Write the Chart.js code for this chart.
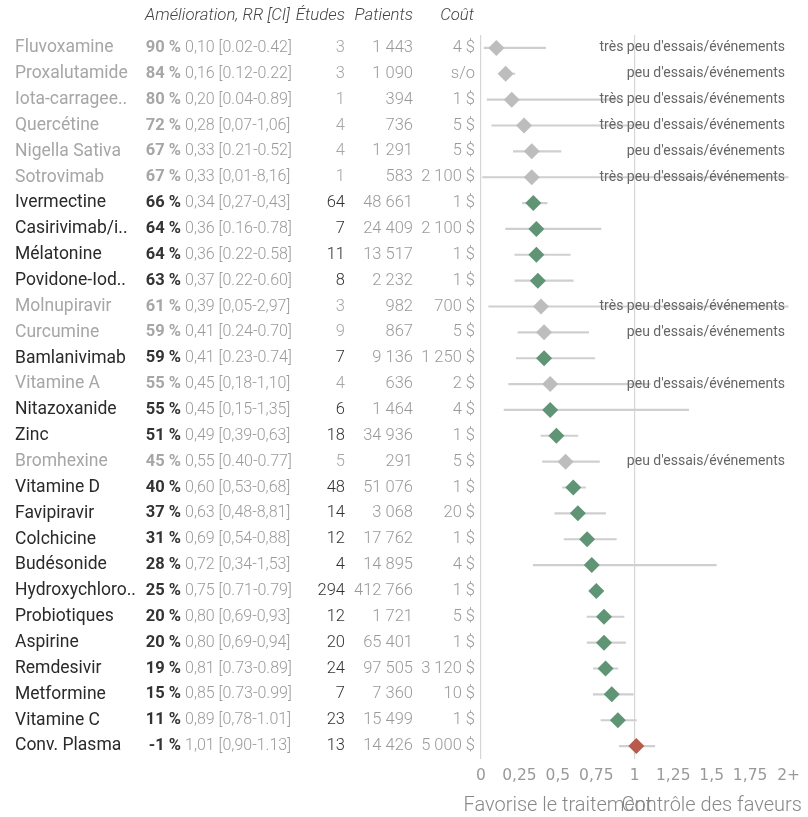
<!DOCTYPE html>
<html>
<head>
<meta charset="utf-8">
<script src="https://cdn.jsdelivr.net/npm/chart.js@4"></script>
<style>
  body { margin: 0; background: #fff; }
  #wrap { width: 808px; height: 817px; position: relative; }
</style>
</head>
<body>
<div id="wrap"><canvas id="forest"></canvas></div>
<script>
// Data
const names = ['Fluvoxamine', 'Proxalutamide', 'Iota-carragee..', 'Quercétine', 'Nigella Sativa', 'Sotrovimab',
  'Ivermectine', 'Casirivimab/i..', 'Mélatonine', 'Povidone-Iod..', 'Molnupiravir', 'Curcumine', 'Bamlanivimab',
  'Vitamine A', 'Nitazoxanide', 'Zinc', 'Bromhexine', 'Vitamine D', 'Favipiravir', 'Colchicine', 'Budésonide',
  'Hydroxychloro..', 'Probiotiques', 'Aspirine', 'Remdesivir', 'Metformine', 'Vitamine C', 'Conv. Plasma'];
const improvement = [90, 84, 80, 72, 67, 67, 66, 64, 64, 63, 61, 59, 59, 55, 55, 51, 45, 40, 37, 31, 28, 25, 20, 20, 19, 15, 11, -1];
const rr = [0.10, 0.16, 0.20, 0.28, 0.33, 0.33, 0.34, 0.36, 0.36, 0.37, 0.39, 0.41, 0.41, 0.45, 0.45, 0.49, 0.55,
  0.60, 0.63, 0.69, 0.72, 0.75, 0.80, 0.80, 0.81, 0.85, 0.89, 1.01];
const ciLow = [0.02, 0.12, 0.04, 0.07, 0.21, 0.01, 0.27, 0.16, 0.22, 0.22, 0.05, 0.24, 0.23, 0.18, 0.15, 0.39, 0.40,
  0.53, 0.48, 0.54, 0.34, 0.71, 0.69, 0.69, 0.73, 0.73, 0.78, 0.90];
const ciHigh = [0.42, 0.22, 0.89, 1.06, 0.52, 8.16, 0.43, 0.78, 0.58, 0.60, 2.97, 0.70, 0.74, 1.10, 1.35, 0.63, 0.77,
  0.68, 0.81, 0.88, 1.53, 0.79, 0.93, 0.94, 0.89, 0.99, 1.01, 1.13];
const ciText = ['[0.02-0.42]', '[0.12-0.22]', '[0.04-0.89]', '[0,07-1,06]', '[0.21-0.52]', '[0,01-8,16]',
  '[0,27-0,43]', '[0.16-0.78]', '[0.22-0.58]', '[0.22-0.60]', '[0,05-2,97]', '[0.24-0.70]', '[0.23-0.74]',
  '[0,18-1,10]', '[0,15-1,35]', '[0,39-0,63]', '[0.40-0.77]', '[0,53-0,68]', '[0,48-8,81]', '[0,54-0,88]',
  '[0,34-1,53]', '[0.71-0.79]', '[0,69-0,93]', '[0,69-0,94]', '[0.73-0.89]', '[0.73-0.99]', '[0,78-1.01]', '[0,90-1.13]'];
const studies = [3, 3, 1, 4, 4, 1, 64, 7, 11, 8, 3, 9, 7, 4, 6, 18, 5, 48, 14, 12, 4, 294, 12, 20, 24, 7, 23, 13];
const patients = [1443, 1090, 394, 736, 1291, 583, 48661, 24409, 13517, 2232, 982, 867, 9136, 636, 1464, 34936, 291,
  51076, 3068, 17762, 14895, 412766, 1721, 65401, 97505, 7360, 15499, 14426];
const cost = ['4 $', 's/o', '1 $', '5 $', '5 $', '2 100 $', '1 $', '2 100 $', '1 $', '1 $', '700 $', '5 $', '1 250 $',
  '2 $', '4 $', '1 $', '5 $', '1 $', '20 $', '1 $', '4 $', '1 $', '5 $', '1 $', '3 120 $', '10 $', '1 $', '5 000 $'];
const notes = ["très peu d'essais/événements", "peu d'essais/événements", "très peu d'essais/événements",
  "très peu d'essais/événements", "peu d'essais/événements", "très peu d'essais/événements", '', '', '', '',
  "très peu d'essais/événements", "peu d'essais/événements", '', "peu d'essais/événements", '', '',
  "peu d'essais/événements", '', '', '', '', '', '', '', '', '', '', ''];
const headers = ['Amélioration, RR [CI]', 'Études', 'Patients', 'Coût'];
const xTitles = ['Favorise le traitement', 'Contrôle des faveurs'];
const X_MAX = 2;

// Helpers
const isWeak = i => notes[i] !== '';
function pointColor(i) {
  if (isWeak(i)) return '#bdbdbd';
  return rr[i] >= 1 ? '#b85a4c' : '#5f9475';
}
function fmtThousands(n) {
  return String(n).replace(/\B(?=(\d{3})+(?!\d))/g, ' ');
}
const fmtComma = v => v.toFixed(2).replace('.', ',');

// Table plugin: draws the columns at the left, aligned on the y scale
const tablePlugin = {
  id: 'table',
  afterDatasetsDraw(chart) {
    const { ctx, scales: { x, y } } = chart;
    ctx.save();
    ctx.textBaseline = 'middle';

    // Header
    ctx.fillStyle = '#444';
    ctx.font = 'italic 300 16.8px Roboto';
    ctx.textAlign = 'right';
    ctx.fillText(headers[0], 290, 16);
    ctx.fillText(headers[1], 345, 16);
    ctx.fillText(headers[2], 413, 16);
    ctx.fillText(headers[3], 474, 16);

    names.forEach((name, i) => {
      const py = y.getPixelForValue(i);
      const weak = isWeak(i);

      ctx.textAlign = 'left';
      ctx.fillStyle = weak ? '#a6a6a6' : '#2a2a2a';
      ctx.font = '400 17.5px Roboto';
      ctx.fillText(name, 15, py);

      ctx.textAlign = 'right';
      ctx.fillStyle = weak ? '#a6a6a6' : '#333';
      ctx.font = 'bold 16.5px Roboto';
      ctx.fillText(improvement[i] + ' %', 181, py);

      ctx.textAlign = 'left';
      ctx.fillStyle = '#9a9a9a';
      ctx.font = '300 16px Roboto';
      ctx.fillText(fmtComma(rr[i]) + ' ' + ciText[i], 185, py);

      ctx.textAlign = 'right';
      ctx.font = '300 16.5px Roboto';
      ctx.fillStyle = weak ? '#a6a6a6' : '#333';
      ctx.fillText(String(studies[i]), 345, py);
      ctx.fillStyle = '#9a9a9a';
      ctx.fillText(fmtThousands(patients[i]), 413, py);
      ctx.fillText(cost[i], 475, py);

      if (notes[i]) {
        ctx.fillStyle = '#666';
        ctx.font = '400 14px Roboto';
        ctx.fillText(notes[i], 785, py);
      }
    });

    // x axis titles
    ctx.textAlign = 'center';
    ctx.fillStyle = '#888';
    ctx.font = '300 20px Roboto';
    ctx.fillText(xTitles[0], x.getPixelForValue(0.5), 806);
    ctx.fillText(xTitles[1], x.getPixelForValue(1.5), 806);
    ctx.restore();
  }
};

const ctx = document.getElementById('forest').getContext('2d');
const forest = new Chart(ctx, {
  type: 'scatter',
  data: {
    datasets: [
      {
        type: 'bar',
        indexAxis: 'y',
        data: names.map((n, i) => ({ x: [ciLow[i], Math.min(ciHigh[i], X_MAX)], y: i })),
        backgroundColor: '#cfcfcf',
        barThickness: 1.5,
        order: 2
      },
      {
        type: 'scatter',
        data: names.map((n, i) => ({ x: rr[i], y: i })),
        pointStyle: 'rectRot',
        pointRadius: 8,
        pointBackgroundColor: names.map((n, i) => pointColor(i)),
        pointBorderWidth: 0,
        order: 1
      }
    ]
  },
  options: {
    responsive: true, maintainAspectRatio: false,
    animation: false,
    layout: { padding: { left: 481, right: 19, top: 35, bottom: 18 } },
    plugins: { legend: { display: false }, tooltip: { enabled: false } },
    scales: {
      x: {
        type: 'linear', min: 0, max: X_MAX, offset: false,
        border: { display: false },
        grid: {
          offset: false,
          drawTicks: false,
          color: c => (c.tick && (c.tick.value === 0 || c.tick.value === 1)) ? '#d6d6d6' : 'rgba(0,0,0,0)',
          lineWidth: 1.2
        },
        ticks: {
          stepSize: 0.25, padding: 8, color: '#999',
          font: { family: 'DejaVu Sans', size: 15.5 },
          maxRotation: 0, autoSkip: false,
          callback: v => v === X_MAX ? '2+' : String(v).replace('.', ',')
        },
        afterFit: scale => { scale.height = 40; }
      },
      y: {
        type: 'linear', min: -0.5, max: names.length - 0.5, reverse: true, display: false,
        offset: false, grid: { offset: false }
      }
    }
  },
  plugins: [tablePlugin]
});
</script>
</body>
</html>
